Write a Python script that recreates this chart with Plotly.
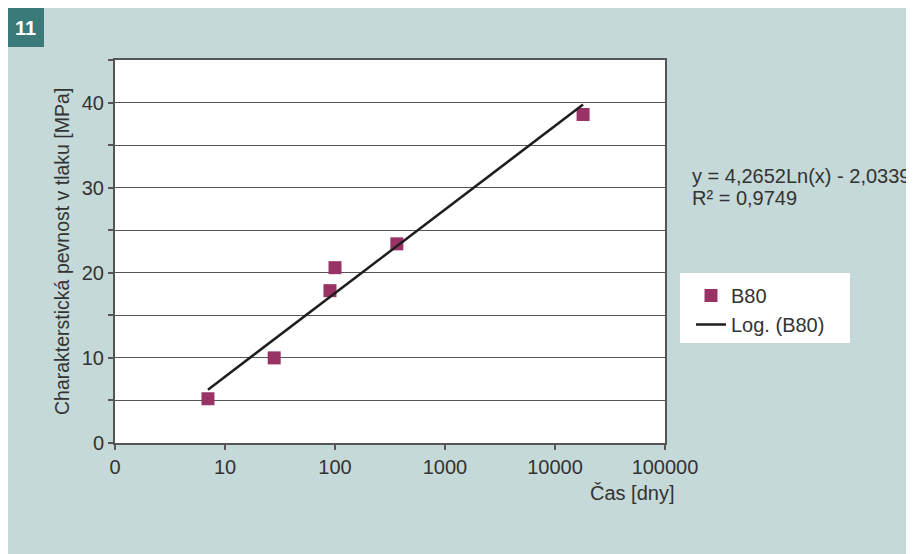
import numpy as np
import plotly.graph_objects as go

# ---- data ----
days = [7, 28, 90, 100, 365, 18000]
strength = [5.2, 10.0, 17.9, 20.6, 23.4, 38.6]
series_name = "B80"
trend_name = "Log. (B80)"
trend_a = 4.2652
trend_b = -2.0339
r2 = 0.9749
x_tickvals = [1, 10, 100, 1000, 10000, 100000]
x_ticktext = ["0", "10", "100", "1000", "10000", "100000"]
y_tickvals = [0, 5, 10, 15, 20, 25, 30, 35, 40, 45]
y_ticktext = ["0", "", "10", "", "20", "", "30", "", "40", ""]
x_title = "Čas [dny]"
y_title = "Charakterstická pevnost v tlaku [MPa]"
badge = "11"

# page is offset by the default 8px body margin
OFF = 8
W, H = 914 - OFF, 554 - OFF
PL, PR, PT, PB = 115, 665, 60, 443      # plot area in page pixels
L = PL - OFF
T = PT - OFF
R = W - (PR - OFF)
B = H - (PB - OFF)
PW, PH = PR - PL, PB - PT


def px(xp):
    return (xp - PL) / PW


def py(yp):
    return (PB - yp) / PH


BG = "#c5d9d8"
FONT = "Liberation Sans, Arial, sans-serif"

trend_x = np.logspace(np.log10(min(days)), np.log10(max(days)), 100)
trend_y = trend_a * np.log(trend_x) + trend_b

fig = go.Figure()
fig.add_trace(go.Scatter(
    x=days, y=strength, mode="markers", name=series_name,
    marker=dict(symbol="square", size=13, color="#993366"),
))
fig.add_trace(go.Scatter(
    x=trend_x, y=trend_y, mode="lines", name=trend_name,
    line=dict(color="#1e1e1e", width=2.5),
))

fig.update_layout(
    width=W, height=H,
    margin=dict(l=L, r=R, t=T, b=B, pad=0),
    paper_bgcolor=BG, plot_bgcolor="white",
    font=dict(family=FONT, size=20, color="#333333"),
    showlegend=True,
    legend=dict(
        x=px(691), y=py(276), xanchor="left", yanchor="top",
        bgcolor="rgba(0,0,0,0)", font=dict(size=20, color="#333333"),
        tracegroupgap=0,
    ),
    xaxis=dict(
        type="log", range=[0, 5],
        tickvals=x_tickvals, ticktext=x_ticktext,
        ticks="outside", ticklen=5, tickwidth=1.5, tickcolor="#555555",
        showline=True, linecolor="#555555", linewidth=2, mirror=True,
        showgrid=False, zeroline=False,
        tickfont=dict(size=20, color="#333333"),
    ),
    yaxis=dict(
        range=[0, 45],
        tickvals=y_tickvals, ticktext=y_ticktext,
        ticks="outside", ticklen=5, tickwidth=1.5, tickcolor="#555555",
        showline=True, linecolor="#555555", linewidth=2, mirror=True,
        showgrid=True, gridcolor="#555555", gridwidth=1.2,
        zeroline=False,
        tickfont=dict(size=20, color="#333333"),
    ),
)

shapes = [
    # badge
    dict(type="rect", xref="paper", yref="paper", x0=px(6), x1=px(44), y0=py(47), y1=py(8),
         fillcolor="#3a7a78", line=dict(width=0), layer="above"),
    # legend box
    dict(type="rect", xref="paper", yref="paper", x0=px(680), x1=px(850), y0=py(343), y1=py(273),
         fillcolor="white", line=dict(width=0), layer="above"),
]
fig.update_layout(shapes=shapes)

annotations = [
    dict(text=f"<b>{badge}</b>", x=px(25), y=py(28), xref="paper", yref="paper",
         xanchor="center", yanchor="middle", showarrow=False,
         font=dict(size=20, color="white", family=FONT)),
    dict(text=y_title, x=px(62), y=py(252), xref="paper", yref="paper",
         xanchor="center", yanchor="middle", showarrow=False, textangle=-90,
         font=dict(size=19.5, color="#333333")),
    dict(text=x_title, x=px(676), y=py(493), xref="paper", yref="paper",
         xanchor="right", yanchor="middle", showarrow=False,
         font=dict(size=20, color="#333333")),
    dict(text=f"y = {trend_a:.4f}Ln(x) - {abs(trend_b):.4f}".replace(".", ","),
         x=px(690), y=py(176), xref="paper", yref="paper",
         xanchor="left", yanchor="middle", showarrow=False,
         font=dict(size=20, color="#333333")),
    dict(text=f"R² = {r2:.4f}".replace(".", ","),
         x=px(690), y=py(198), xref="paper", yref="paper",
         xanchor="left", yanchor="middle", showarrow=False,
         font=dict(size=20, color="#333333")),
]
fig.update_layout(annotations=annotations)

fig.write_html("out.html")
